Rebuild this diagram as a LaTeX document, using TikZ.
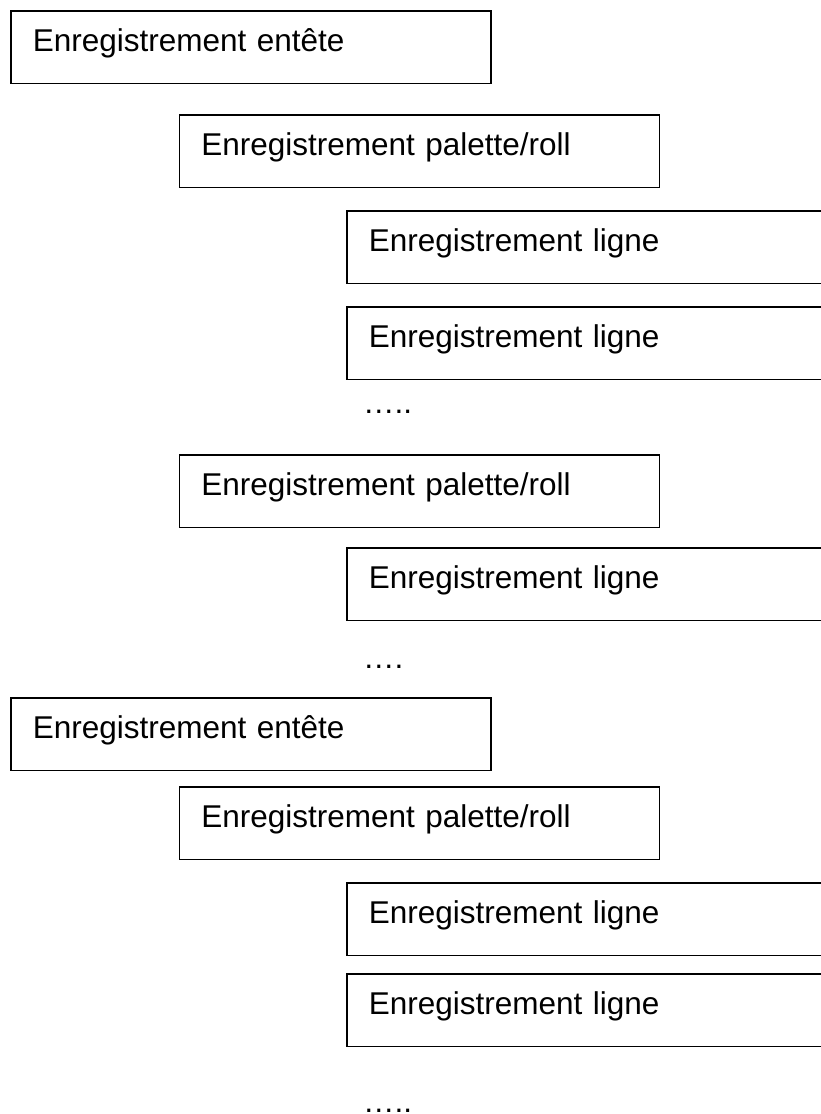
\documentclass[tikz,border=0pt]{standalone}
\usepackage{fontspec}
\setmainfont{Liberation Sans}
\usepackage{tikz}
\usetikzlibrary{positioning}
\tikzset{every picture/.style={font=\fontsize{31.5}{37}\selectfont}}

\begin{document}
\begin{tikzpicture}[x=1pt,y=-1pt,rec/.style={draw=black,line width=1.6pt,anchor=north west,
                inner xsep=22pt,inner ysep=10pt,text width=436pt,text height=31pt,
                text depth=21.5pt,align=left},dots/.style={anchor=base west,inner sep=0pt}]
                \useasboundingbox (0,0) rectangle (821,1114);
                \clip (0,0) rectangle (821,1114);
                \node[rec] (ent1) at (10,10) {Enregistrement entête};
                \node[rec] (pal1) at (178.5,114) {Enregistrement palette/roll};
                \node[rec] (lig1) at (346,210) {Enregistrement ligne};
                \node[rec] (lig2) at (346,306) {Enregistrement ligne};
                \node[dots] (etc1) at (363,413) {…..};
                \node[rec] (pal2) at (178.5,454) {Enregistrement palette/roll};
                \node[rec] (lig3) at (346,547) {Enregistrement ligne};
                \node[dots] (etc2) at (363,668) {….};
                \node[rec] (ent2) at (10,697) {Enregistrement entête};
                \node[rec] (pal3) at (178.5,786) {Enregistrement palette/roll};
                \node[rec] (lig4) at (346,882) {Enregistrement ligne};
                \node[rec] (lig5) at (346,973) {Enregistrement ligne};
                \node[dots] (etc3) at (363,1112) {…..};
            \end{tikzpicture}
\end{document}
